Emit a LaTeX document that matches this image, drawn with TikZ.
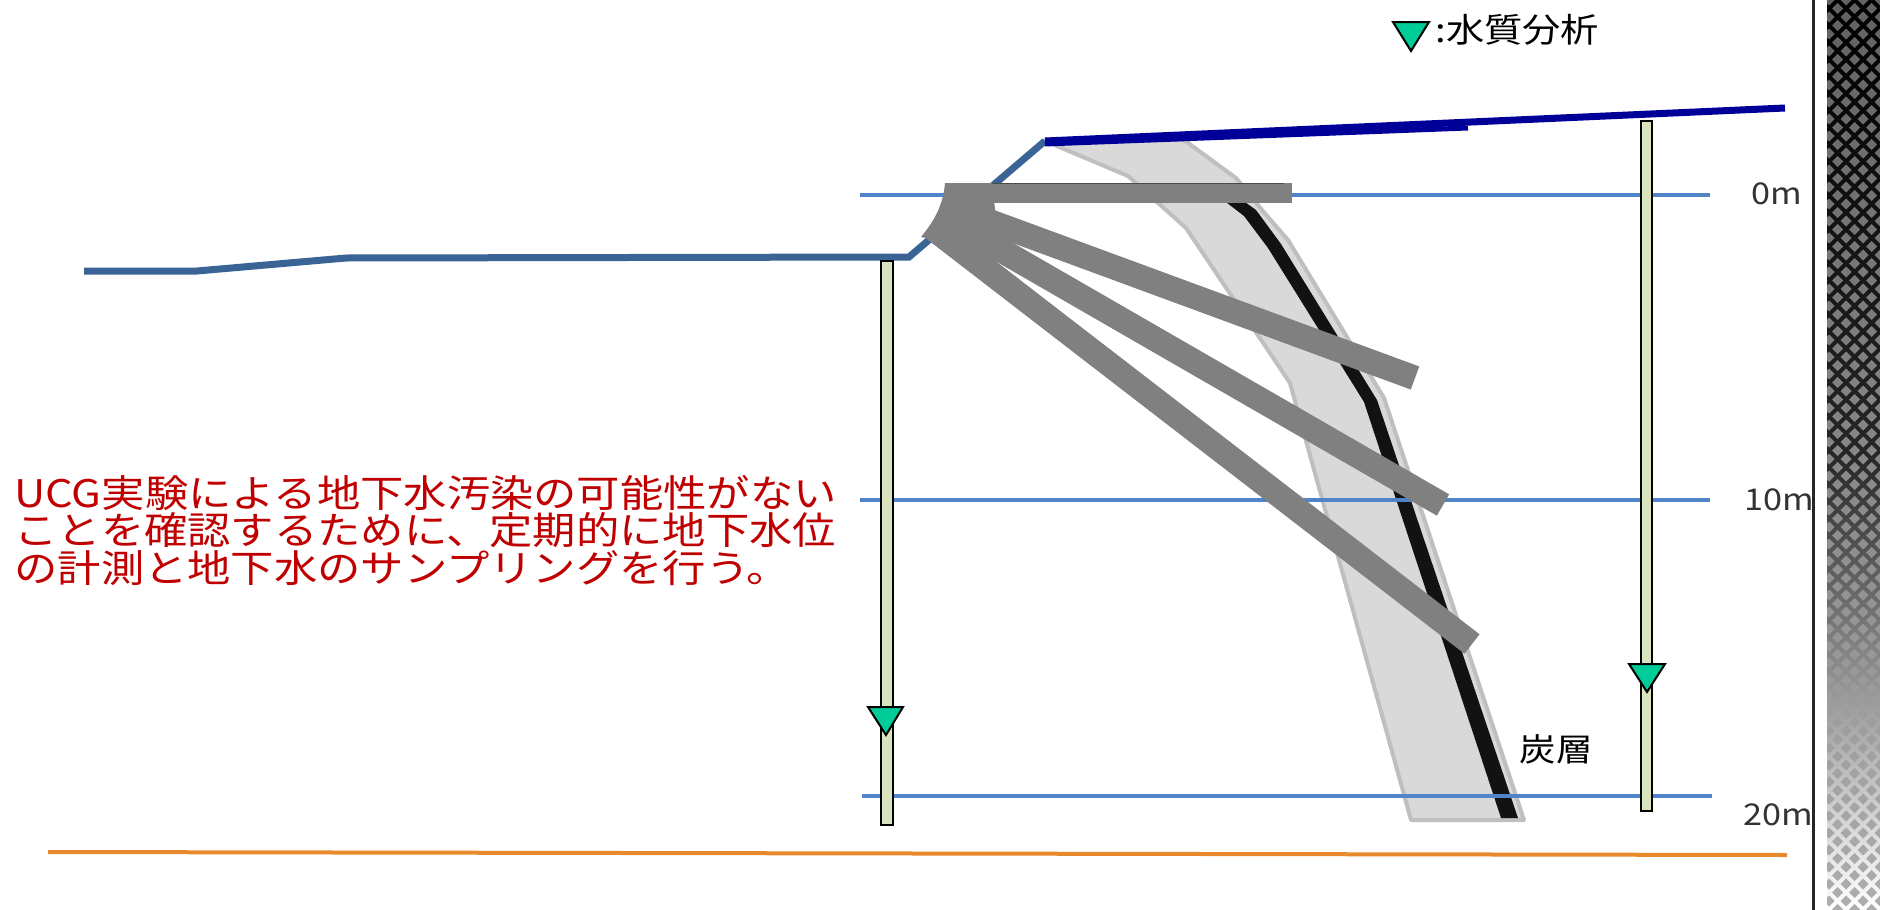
\documentclass[tikz,border=0pt]{standalone}
\usepackage{fontspec}
\newfontfamily\jp[FakeStretch=1.14]{Noto Sans CJK JP}
\definecolor{navyline}{HTML}{000099}
\definecolor{groundblue}{HTML}{3A6496}
\definecolor{depthblue}{HTML}{4F85C8}
\definecolor{boregray}{HTML}{808080}
\definecolor{bandgray}{HTML}{D9D9D9}
\definecolor{bandedge}{HTML}{BFBFBF}
\definecolor{wellgreen}{HTML}{D7E4BD}
\definecolor{markgreen}{HTML}{00CC99}
\definecolor{notered}{HTML}{C00000}
\definecolor{scaletext}{HTML}{333333}
\definecolor{groundorange}{HTML}{E8892C}
\begin{document}
\begin{tikzpicture}[x=0.5pt,y=-0.5pt,
  depthline/.style={draw=depthblue,line width=1.75pt},
  groundline/.style={draw=groundblue,line width=3.5pt,line join=miter},
  surfaceline/.style={draw=navyline,line width=3.5pt},
  borehole/.style={draw=boregray,line width=12.3pt},
  wellpipe/.style={fill=wellgreen,draw=black,line width=0.75pt},
  marker/.style={fill=markgreen,draw=black,line width=1pt,line join=miter},
  scalelabel/.style={font=\jp\fontsize{15}{18}\selectfont,text=scaletext,inner sep=0pt},
  jplabel/.style={font=\jp\fontsize{16}{19}\selectfont,text=black,inner sep=0pt}]
\useasboundingbox (0,0) rectangle (1880,910);
\fill[white] (0,0) rectangle (1880,910);

% coal seam: grey zone and black seam
\filldraw[fill=bandgray,draw=bandedge,line width=2pt,line join=round]
  (1045,141) -- (1128,176) -- (1186,228) -- (1290,383) -- (1411,820)
  -- (1524,820) -- (1384,398) -- (1288,240) -- (1262,210) -- (1236,178) -- (1184,140) -- cycle;
\fill[black!93] (1218,196) -- (1244,216) -- (1268,248) -- (1364,402) -- (1501,818)
  -- (1518,818) -- (1377,400) -- (1281,244) -- (1256,210) -- (1228,190) -- cycle;

% depth lines
\draw[depthline] (860,195) -- (1710,195);
\draw[depthline] (860,500) -- (1710,500);
\draw[depthline] (862,796) -- (1712,796);

% ground surface
\draw[groundline] (84,271) -- (197,271) -- (346,258) -- (909,257) -- (1045,141);
\draw[surfaceline] (1045,141) -- (1785,108);
\draw[surfaceline,line width=2.5pt] (1045,144) -- (1468,128);
\draw[draw=groundorange,line width=2pt] (48,852) -- (1787,855);

% observation wells
\filldraw[wellpipe] (881,261) rectangle (893,825);
\filldraw[wellpipe] (1641,121) rectangle (1652,811);
\filldraw[marker] (868,707) -- (903,707) -- (886,735) -- cycle;
\filldraw[marker] (1629,664) -- (1665,664) -- (1647,692) -- cycle;

% gasification boreholes
\coordinate (b1s) at (945,205);  \coordinate (b1e) at (1415,378);
\coordinate (b2s) at (940,215);  \coordinate (b2e) at (1443,505);
\coordinate (b3s) at (930,226);  \coordinate (b3e) at (1472,644);
\draw[borehole] (b1s) -- (b1e);
\draw[borehole] (b2s) -- (b2e);
\draw[borehole] (b3s) -- (b3e);
\fill[boregray] (945,183) rectangle (1292,203);
\draw[gray!60!black,line width=0.5pt] (975,183.5) -- (1284,183.5);
\fill[boregray] (945,183) -- (992,183) -- (1000,252) -- (921,237)
  .. controls (935,220) and (943,205) .. (945,183) -- cycle;

% legend
\filldraw[marker] (1393,22) -- (1429,22) -- (1411,51) -- cycle;
\node[jplabel,anchor=west,font=\jp\fontsize{16.8}{19}\selectfont] (legend) at (1435,30) {:水質分析};

% labels
\node[jplabel] (seam) at (1556,749) {炭層};
\node[scalelabel] (d0) at (1777,194) {0m};
\node[scalelabel] (d10) at (1779,500) {10m};
\node[scalelabel] (d20) at (1778,815) {20m};
\node[anchor=west,align=left,inner sep=0pt,text=notered,
  font=\jp\fontsize{19}{18.75}\selectfont] (note) at (14,530)
  {UCG実験による地下水汚染の可能性がない\\ことを確認するために、定期的に地下水位\\の計測と地下水のサンプリングを行う。};

% patterned side strip
\draw[black!85,line width=1.5pt] (1813,0) -- (1813,910);
\begin{scope}
  \clip (1827,0) rectangle (1880,910);
  \shade[top color=black,bottom color=white,middle color=black!85] (1827,0) rectangle (1880,910);
  \foreach \j in {0,...,108} {
    \pgfmathsetmacro{\yy}{\j*8.5}
    \pgfmathsetmacro{\xo}{mod(\j,2)*8.5}
    \pgfmathsetmacro{\pc}{62-\j*0.28}
    \foreach \k in {0,...,3} {
      \pgfmathsetmacro{\xx}{1829+\xo+\k*17}
      \fill[black!\pc] (\xx,\yy-5.5) -- (\xx+5.5,\yy) -- (\xx,\yy+5.5) -- (\xx-5.5,\yy) -- cycle;
    }
  }
\end{scope}
\end{tikzpicture}
\end{document}
